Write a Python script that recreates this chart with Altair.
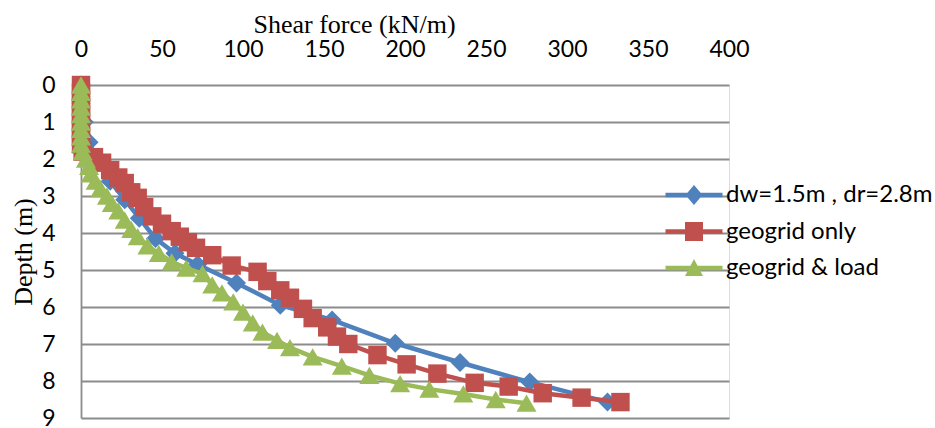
import altair as alt
import pandas as pd

series_names = ["dw=1.5m , dr=2.8m", "geogrid only", "geogrid & load"]
series_colors = ["#4F81BD", "#C0504D", "#9BBB59"]

blue_x = [0, 0, 2, 5, 10, 18, 27, 36, 46, 58, 72, 96, 123, 155, 194, 234, 277, 325]
blue_d = [0, 0.5, 1.0, 1.55, 2.05, 2.6, 3.1, 3.6, 4.15, 4.55, 4.85, 5.35, 5.95, 6.35, 6.98, 7.5, 8.03, 8.57]

red_x = [0, 0, 0, 0, 0, 0, 0, 0, 0, 1, 8, 13, 18, 23, 27, 31, 35, 39, 44, 50, 56, 61, 66, 71,
         81, 93, 109, 115, 123, 129, 137, 143, 152, 158, 165, 183, 201, 220, 243, 264, 285, 309, 333]
red_d = [0, 0.2, 0.4, 0.6, 0.8, 1.0, 1.2, 1.4, 1.6, 1.8, 1.95, 2.1, 2.3, 2.5, 2.65, 2.9, 3.05, 3.3,
         3.55, 3.75, 3.95, 4.1, 4.25, 4.4, 4.6, 4.88, 5.05, 5.3, 5.55, 5.75, 6.05, 6.3, 6.55, 6.8,
         7.0, 7.3, 7.55, 7.8, 8.05, 8.15, 8.33, 8.45, 8.57]

green_x = [0, 0, 0, 0, 0, 0, 0, 0, 0, 1, 3, 5, 6, 9, 12, 16, 19, 23, 27, 31, 35, 41, 48, 56, 65,
           75, 81, 87, 94, 100, 106, 112, 121, 129, 143, 161, 178, 197, 215, 236, 256, 275]
green_d = [0, 0.2, 0.4, 0.6, 0.8, 1.0, 1.2, 1.4, 1.6, 1.8, 2.0, 2.2, 2.4, 2.6, 2.8, 3.0, 3.2, 3.4,
           3.65, 3.9, 4.1, 4.35, 4.55, 4.78, 4.95, 5.1, 5.4, 5.62, 5.86, 6.14, 6.43, 6.68, 6.9,
           7.1, 7.35, 7.6, 7.85, 8.07, 8.22, 8.35, 8.5, 8.6]

x_ticks = [0, 50, 100, 150, 200, 250, 300, 350, 400]
y_ticks = [0, 1, 2, 3, 4, 5, 6, 7, 8, 9]

plot_shapes = ["diamond", "square", "triangle-up"]
plot_sizes = [360, 340, 400]

# legend symbols: a thick line segment plus the marker (unit box -1..1)
line_part = "M-2.85,-0.22H2.85V0.22H-2.85Z"
legend_shapes = [
    line_part + "M0,-1L0.85,0L0,1L-0.85,0Z",
    line_part + "M-0.9,-0.95H0.9V0.95H-0.9Z",
    line_part + "M0,-0.9L0.9,0.8L-0.9,0.8Z",
]

rows = []
for name, xs, ds in zip(series_names, [blue_x, red_x, green_x], [blue_d, red_d, green_d]):
    for i, (xv, dv) in enumerate(zip(xs, ds)):
        rows.append({"series": name, "x": xv, "depth": dv, "idx": i})
df = pd.DataFrame(rows)

x_enc = alt.X(
    "x:Q",
    scale=alt.Scale(domain=[0, 400], nice=False, zero=False),
    axis=alt.Axis(
        orient="top", values=x_ticks, grid=False, ticks=False, domain=False,
        labelFlush=False, labelOverlap=False,
        labelFont="Lato", labelFontSize=23, labelColor="#000000", labelPadding=24,
        title="Shear force (kN/m)", titleFont="Liberation Serif", titleFontSize=26,
        titleFontWeight="normal", titleColor="#000000", titleX=273, titleY=-61,
        titleBaseline="middle", titleAlign="center",
    ),
)
y_enc = alt.Y(
    "depth:Q",
    scale=alt.Scale(domain=[0, 9], reverse=True, nice=False, zero=False),
    axis=alt.Axis(
        values=y_ticks, grid=True, gridColor="#8c8c8c", gridWidth=1.8, gridOpacity=1,
        ticks=False, domain=True, domainColor="#8c8c8c", domainWidth=1.8,
        labelFlush=False, labelOverlap=False,
        labelFont="Lato", labelFontSize=23, labelColor="#000000", labelPadding=26,
        title="Depth (m)", titleFont="Liberation Serif", titleFontSize=26,
        titleFontWeight="normal", titleColor="#000000", titleX=-58, titleY=166.5,
        titleBaseline="middle", titleAlign="center", titleAngle=-90,
    ),
)

base = alt.Chart(df)
layers = []
for k, name in enumerate(series_names):
    sub = base.transform_filter(alt.datum.series == name)
    line = sub.mark_line(color=series_colors[k], strokeWidth=4.5).encode(
        x=x_enc, y=y_enc, order=alt.Order("idx:Q")
    )
    pts = sub.mark_point(
        filled=True, opacity=1, color=series_colors[k], shape=plot_shapes[k],
        size=plot_sizes[k], strokeWidth=0,
    ).encode(x=x_enc, y=y_enc)
    layers += [line, pts]

legend_layer = base.transform_filter("datum.x < -1000").mark_point(filled=True, opacity=1).encode(
    x=x_enc,
    y=y_enc,
    color=alt.Color(
        "series:N",
        scale=alt.Scale(domain=series_names, range=series_colors),
        legend=alt.Legend(
            title=None, orient="none", legendX=601, legendY=98,
            symbolSize=400, symbolStrokeWidth=0, symbolOpacity=1,
            labelFont="Lato", labelFontSize=24, labelColor="#000000",
            labelOffset=20, symbolOffset=0, rowPadding=12.5, padding=0,
            labelLimit=400,
        ),
    ),
    shape=alt.Shape(
        "series:N",
        scale=alt.Scale(domain=series_names, range=legend_shapes),
    ),
)
layers.append(legend_layer)

chart = alt.layer(*layers).properties(
    width=648,
    height=333,
    autosize=alt.AutoSizeParams(type="none"),
    padding={"left": 81, "top": 85, "right": 206, "bottom": 10},
).configure_view(stroke=None).configure(background="white")

chart.save("out.html", embed_options={"renderer": "svg", "actions": False})
